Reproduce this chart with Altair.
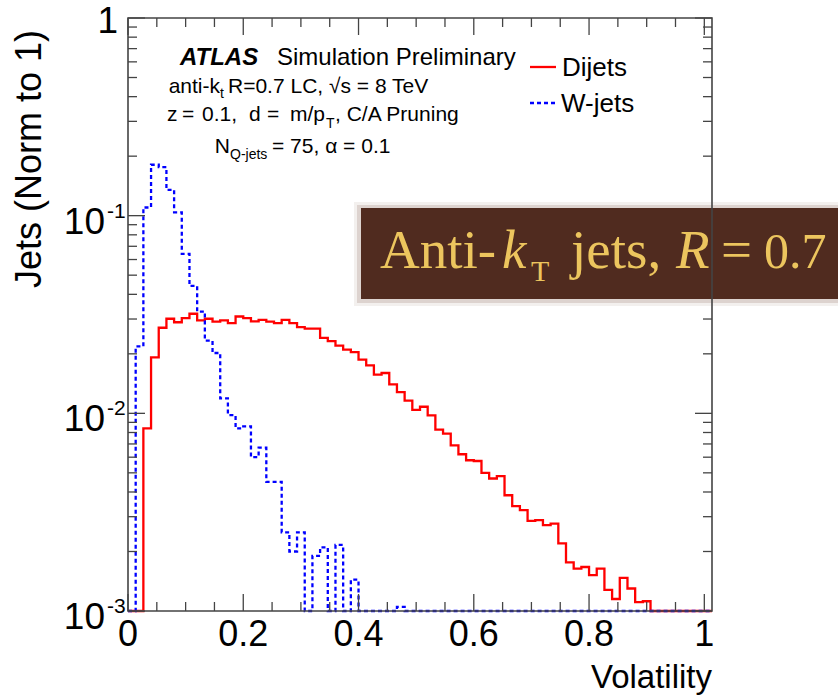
import altair as alt
import pandas as pd

# ---------------- data ----------------
n_bins = 76
bin_width = 1.0 / 75

dijets = [0, 0, 0.0084, 0.0192, 0.0271, 0.0301, 0.0289, 0.0303, 0.0319, 0.0295,
          0.0301, 0.0291, 0.0295, 0.0286, 0.0309, 0.0303, 0.0292, 0.0297, 0.0291, 0.0286,
          0.0297, 0.0286, 0.0273, 0.0268, 0.0268, 0.0241, 0.0232, 0.0220, 0.0210, 0.0204,
          0.0187, 0.0175, 0.0157, 0.0160, 0.0140, 0.0128, 0.0116, 0.0104, 0.0108, 0.00977,
          0.00827, 0.00789, 0.00689, 0.00621, 0.00579, 0.00574, 0.00500, 0.00468, 0.00481, 0.00385,
          0.00339, 0.00324, 0.00286, 0.00288, 0.00272, 0.00277, 0.00220, 0.00176, 0.00164, 0.00167,
          0.00152, 0.00164, 0.00128, 0.00115, 0.00147, 0.00130, 0.00111, 0.00112, 0, 0,
          0, 0, 0, 0, 0, 0]

wjets = [0, 0.0218, 0.110, 0.181, 0.176, 0.135, 0.104, 0.0641, 0.0441, 0.0327,
         0.0233, 0.0202, 0.0119, 0.0098, 0.0084, 0.0086, 0.0060, 0.0067, 0.0045, 0.0045,
         0.0025, 0.0020, 0.0025, 0, 0.0019, 0.0021, 0, 0.00216, 0, 0.00144,
         0, 0, 0, 0, 0, 0.00105, 0, 0, 0, 0,
         0, 0, 0, 0, 0, 0, 0, 0, 0, 0,
         0, 0, 0, 0, 0, 0, 0, 0, 0, 0,
         0, 0, 0, 0, 0, 0, 0, 0, 0, 0,
         0, 0, 0, 0, 0, 0]

x_major_ticks = [0.0, 0.2, 0.4, 0.6, 0.8, 1.0]
x_tick_labels = ["0", "0.2", "0.4", "0.6", "0.8", "1"]
x_minor_ticks = [0.05, 0.1, 0.15, 0.25, 0.3, 0.35, 0.45, 0.5, 0.55,
                 0.65, 0.7, 0.75, 0.85, 0.9, 0.95]
y_major_ticks = [0.001, 0.01, 0.1, 1.0]
y_exponents = ["-3", "-2", "-1"]
y_minor_ticks = [0.002, 0.003, 0.004, 0.005, 0.006, 0.007, 0.008, 0.009,
                 0.02, 0.03, 0.04, 0.05, 0.06, 0.07, 0.08, 0.09,
                 0.2, 0.3, 0.4, 0.5, 0.6, 0.7, 0.8, 0.9]

# ---------------- layout ----------------
L, T = 128, 18          # plot origin on page
W, H = 584, 593         # plot area size
FONT = "Liberation Sans"
SERIF = "Liberation Serif"
FRAME = "#444444"

xs = alt.Scale(domain=[0, n_bins * bin_width], nice=False, zero=False)
ys = alt.Scale(type="log", domain=[0.001, 1], nice=False, clamp=True)


def hist_df(vals, name):
    xs_ = [i * bin_width for i in range(n_bins)] + [n_bins * bin_width]
    vv = list(vals) + [vals[-1]]
    return pd.DataFrame({"x": xs_, "v": [max(v, 0.001) for v in vv], "s": name})


def X(field="x"):
    return alt.X(f"{field}:Q", scale=xs, axis=None)


def Y(field="y"):
    return alt.Y(f"{field}:Q", scale=ys, axis=None)


one = alt.Data(values=[{}])


def txt(s, ax, ay, size, align="left", font=FONT, weight="normal", style="normal",
        color="black", angle=0, baseline="alphabetic"):
    return alt.Chart(one).mark_text(
        text=s, align=align, baseline=baseline, font=font, fontSize=size,
        fontWeight=weight, fontStyle=style, color=color, angle=angle
    ).encode(x=alt.value(ax - L), y=alt.value(ay - T))


def rect(x1, y1, x2, y2, color, opacity=1.0):
    return alt.Chart(one).mark_rect(color=color, opacity=opacity).encode(
        x=alt.value(x1 - L), x2=alt.value(x2 - L), y=alt.value(y1 - T), y2=alt.value(y2 - T))


# histograms
red = alt.Chart(hist_df(dijets, "Dijets")).mark_line(
    interpolate="step-after", color="#ff0000", strokeWidth=2.3
).encode(x=X(), y=Y("v"))
blue = alt.Chart(hist_df(wjets, "W-jets")).mark_line(
    interpolate="step-after", color="#0000ff", strokeWidth=2.3, strokeDash=[4, 3]
).encode(x=X(), y=Y("v"))

# ticks (inside, ROOT style)
xmaj = pd.DataFrame({"x": x_major_ticks, "lab": x_tick_labels})
xmin = pd.DataFrame({"x": x_minor_ticks})
ymaj = pd.DataFrame({"y": y_major_ticks})
ymin = pd.DataFrame({"y": y_minor_ticks})

tick_layers = []
for df, ln in [(xmaj, 17), (xmin, 9)]:
    tick_layers.append(alt.Chart(df).mark_rule(color=FRAME, strokeWidth=1.3).encode(
        x=X(), y=alt.value(H), y2=alt.value(H - ln)))
    tick_layers.append(alt.Chart(df).mark_rule(color=FRAME, strokeWidth=1.3).encode(
        x=X(), y=alt.value(0), y2=alt.value(ln)))
for df, ln in [(ymaj, 17), (ymin, 9)]:
    tick_layers.append(alt.Chart(df).mark_rule(color=FRAME, strokeWidth=1.3).encode(
        y=Y(), x=alt.value(0), x2=alt.value(ln)))
    tick_layers.append(alt.Chart(df).mark_rule(color=FRAME, strokeWidth=1.3).encode(
        y=Y(), x=alt.value(W), x2=alt.value(W - ln)))

# tick labels
xlab = alt.Chart(xmaj).mark_text(
    font=FONT, fontSize=36, baseline="top", align="center"
).encode(x=X(), y=alt.value(H + 7), text="lab:N")

ydec = pd.DataFrame({"y": y_major_ticks[:3], "exp": y_exponents})
ylab10 = alt.Chart(ydec).mark_text(
    font=FONT, fontSize=37, align="right", baseline="alphabetic", dy=18
).encode(y=Y(), x=alt.value(105 - L), text=alt.value("10"))
ylabexp = alt.Chart(ydec).mark_text(
    font=FONT, fontSize=21, align="left", baseline="alphabetic", dy=2
).encode(y=Y(), x=alt.value(107 - L), text="exp:N")
ylab1 = alt.Chart(pd.DataFrame({"y": y_major_ticks[3:]})).mark_text(
    font=FONT, fontSize=37, align="right", baseline="alphabetic", dy=15
).encode(y=Y(), x=alt.value(118 - L), text=alt.value("1"))

# axis titles
ytitle = txt("Jets (Norm to 1)", 41, 30, 36, align="right", angle=270)
xtitle = txt("Volatility", 712, 688, 33, align="right")

# ATLAS labels
S = 21
SUB = 14
ann = [
    txt("ATLAS", 180, 65, 24, weight="bold", style="italic"),
    txt("Simulation Preliminary", 277, 65, 24),
    txt("anti-k", 220, 93, S, align="right"),
    txt("t", 220, 98, SUB),
    txt("R=0.7 LC, \u221as = 8 TeV", 228, 93, S),
    txt("z", 167, 121, S),
    txt("=", 182, 121, S),
    txt("0.1,", 202, 121, S),
    txt("d", 249, 121, S),
    txt("=", 267, 121, S),
    txt("m/p", 290, 121, S),
    txt("T", 326, 128, SUB),
    txt(", C/A Pruning", 335, 121, S),
    txt("N", 230, 153, S, align="right"),
    txt("Q-jets", 230, 159, SUB),
    txt("= 75, \u03b1 = 0.1", 272, 153, S),
]

# legend
leg = [
    alt.Chart(one).mark_rule(color="#ff0000", strokeWidth=2.3).encode(
        x=alt.value(530 - L), x2=alt.value(556 - L), y=alt.value(67 - T)),
    alt.Chart(one).mark_rule(color="#0000ff", strokeWidth=2.3, strokeDash=[4, 3]).encode(
        x=alt.value(530 - L), x2=alt.value(556 - L), y=alt.value(103 - T)),
    txt("Dijets", 562, 76, 26),
    txt("W-jets", 561, 112, 26),
]

# brown banner
GOLD = "#ecc55e"
banner = [
    rect(354, 202, 860, 306, "#8a6a5a", 0.10),
    rect(357, 205, 860, 303, "#7a5444", 0.18),
    rect(361, 208, 860, 299, "#502b1f", 1.0),
]
frame = alt.Chart(one).mark_rect(filled=False, stroke=FRAME, strokeWidth=1.6).encode(
    x=alt.value(0), x2=alt.value(W), y=alt.value(0), y2=alt.value(H))
BS = 55
banner_txt = [
    txt("Anti-", 380, 268, BS, font=SERIF, color=GOLD),
    txt("k", 502, 268, BS, font=SERIF, style="italic", color=GOLD),
    txt("T", 531, 281, 30, font=SERIF, color=GOLD),
    txt("jets,", 571, 268, BS, font=SERIF, color=GOLD),
    txt("R", 676, 268, BS, font=SERIF, style="italic", color=GOLD),
    txt("=", 721, 268, BS, font=SERIF, color=GOLD),
    txt("0.7", 764, 268, 50, font=SERIF, color=GOLD),
]

chart = alt.layer(
    red, blue, *tick_layers, xlab, ylab10, ylabexp, ylab1, ytitle, xtitle,
    *ann, *leg, *banner, frame, *banner_txt
).properties(
    width=W, height=H,
    padding={"left": L, "top": T, "right": 838 - L - W, "bottom": 699 - T - H},
    autosize=alt.AutoSizeParams(type="none"),
    background="white",
).configure_view(stroke=None)

chart.save("out.html", embed_options={"renderer": "svg", "actions": False})
